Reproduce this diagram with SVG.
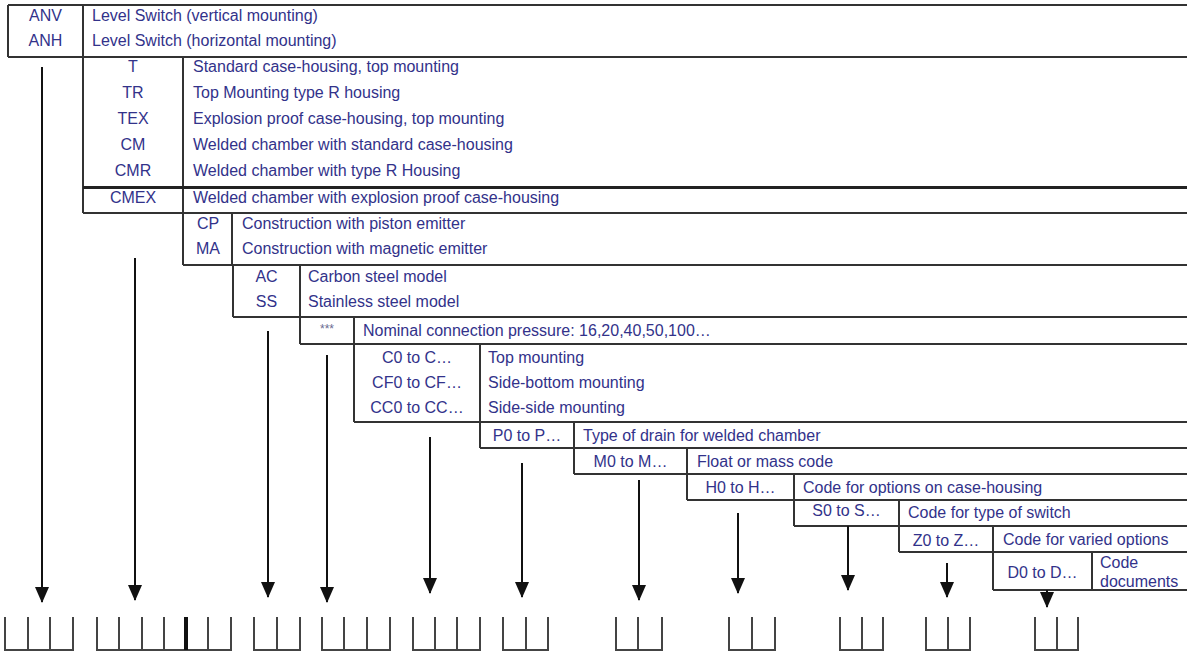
<svg xmlns="http://www.w3.org/2000/svg" width="1187" height="652" viewBox="0 0 1187 652">
<style>
.ln{stroke:#333;stroke-width:2;fill:none}
.thick{stroke:#222;stroke-width:3;fill:none}
.slot{stroke:#444;stroke-width:2;fill:none}
.code{font-family:"Liberation Sans",Arial,sans-serif;font-size:16px;fill:#32328a;text-anchor:middle}
.desc{font-family:"Liberation Sans",Arial,sans-serif;font-size:16px;fill:#32328a}
.star{font-family:"Liberation Sans",Arial,sans-serif;font-size:12px;fill:#6a6a90;text-anchor:middle}
.arr{stroke:#111;stroke-width:2;fill:none;marker-end:url(#ah)}
</style>
<defs>
<marker id="ah" viewBox="0 0 16 14" refX="15" refY="7" markerUnits="userSpaceOnUse" markerWidth="16" markerHeight="14" orient="auto">
<path d="M0,0 L16,7 L0,14 z" fill="#111"/>
</marker>
</defs>
<rect width="1187" height="652" fill="#fff"/>

<g id="block-series">
<path class="ln" d="M8,5 H1187 M8,5 V57 M83,5 V57 M8,57 H1187"/>
<text class="code" x="45.5" y="21">ANV</text>
<text class="desc" x="92" y="21">Level Switch (vertical mounting)</text>
<text class="code" x="45.5" y="46">ANH</text>
<text class="desc" x="92" y="46">Level Switch (horizontal mounting)</text>
</g>

<g id="block-housing">
<path class="ln" d="M83,57 V213 M183,57 V213 M83,213 H1187"/>
<path class="thick" d="M83,187.5 H1187"/>
<text class="code" x="133" y="72">T</text>
<text class="desc" x="193" y="72">Standard case-housing, top mounting</text>
<text class="code" x="133" y="98">TR</text>
<text class="desc" x="193" y="98">Top Mounting type R housing</text>
<text class="code" x="133" y="124">TEX</text>
<text class="desc" x="193" y="124">Explosion proof case-housing, top mounting</text>
<text class="code" x="133" y="150">CM</text>
<text class="desc" x="193" y="150">Welded chamber with standard case-housing</text>
<text class="code" x="133" y="176">CMR</text>
<text class="desc" x="193" y="176">Welded chamber with type R Housing</text>
<text class="code" x="133" y="203">CMEX</text>
<text class="desc" x="193" y="203">Welded chamber with explosion proof case-housing</text>
</g>

<g id="block-construction">
<path class="ln" d="M183,213 V265 M232,213 V265 M183,265 H1187"/>
<text class="code" x="208" y="229">CP</text>
<text class="desc" x="242" y="229">Construction with piston emitter</text>
<text class="code" x="208" y="254">MA</text>
<text class="desc" x="242" y="254">Construction with magnetic emitter</text>
</g>

<g id="block-material">
<path class="ln" d="M233,265 V317 M300,265 V317 M233,317 H1187"/>
<text class="code" x="266.5" y="282">AC</text>
<text class="desc" x="308" y="282">Carbon steel model</text>
<text class="code" x="266.5" y="307">SS</text>
<text class="desc" x="308" y="307">Stainless steel model</text>
</g>

<g id="block-pressure">
<path class="ln" d="M300,317 V344 M354,317 V344 M300,344 H1187"/>
<text class="star" x="327" y="333">***</text>
<text class="desc" x="363" y="336">Nominal connection pressure: 16,20,40,50,100…</text>
</g>

<g id="block-mounting">
<path class="ln" d="M354,344 V422 M480,344 V422 M354,422 H1187"/>
<text class="code" x="417" y="363">C0 to C…</text>
<text class="desc" x="488" y="363">Top mounting</text>
<text class="code" x="417" y="388">CF0 to CF…</text>
<text class="desc" x="488" y="388">Side-bottom mounting</text>
<text class="code" x="417" y="413">CC0 to CC…</text>
<text class="desc" x="488" y="413">Side-side mounting</text>
</g>

<g id="block-drain">
<path class="ln" d="M480,422 V448 M574,422 V448 M480,448 H1187"/>
<text class="code" x="527" y="441">P0 to P…</text>
<text class="desc" x="583" y="441">Type of drain for welded chamber</text>
</g>

<g id="block-float">
<path class="ln" d="M574,448 V474 M687,448 V474 M574,474 H1187"/>
<text class="code" x="630.5" y="467">M0 to M…</text>
<text class="desc" x="697" y="467">Float or mass code</text>
</g>

<g id="block-options">
<path class="ln" d="M687,474 V500 M794,474 V500 M687,500 H1187"/>
<text class="code" x="740.5" y="493">H0 to H…</text>
<text class="desc" x="803" y="493">Code for options on case-housing</text>
</g>

<g id="block-switch">
<path class="ln" d="M794,500 V526 M899,500 V526 M794,526 H1187"/>
<text class="code" x="846.5" y="516">S0 to S…</text>
<text class="desc" x="908" y="518">Code for type of switch</text>
</g>

<g id="block-varied">
<path class="ln" d="M899,526 V552 M993,526 V552 M899,552 H1187"/>
<text class="code" x="946" y="546">Z0 to Z…</text>
<text class="desc" x="1003" y="545">Code for varied options</text>
</g>

<g id="block-documents">
<path class="ln" d="M993,552 V590 M1092,552 V590 M993,590 H1187"/>
<text class="code" x="1042.5" y="578">D0 to D…</text>
<text class="desc" x="1100" y="568">Code</text>
<text class="desc" x="1100" y="587">documents</text>
</g>

<g id="connectors">
<line class="arr" x1="42" y1="67" x2="42" y2="602"/>
<line class="arr" x1="135" y1="258" x2="135" y2="600"/>
<line class="arr" x1="268" y1="331" x2="268" y2="597"/>
<line class="arr" x1="327" y1="355" x2="327" y2="602"/>
<line class="arr" x1="430" y1="437" x2="430" y2="593"/>
<line class="arr" x1="522" y1="463" x2="522" y2="597"/>
<line class="arr" x1="639" y1="480" x2="639" y2="600"/>
<line class="arr" x1="738" y1="513" x2="738" y2="593"/>
<line class="arr" x1="848" y1="526" x2="848" y2="590"/>
<line class="arr" x1="947" y1="563" x2="947" y2="597"/>
<line class="arr" x1="1047" y1="590" x2="1047" y2="607"/>
</g>

<g id="slots-1"><path class="slot" d="M5,617 V650 H73 V617 M28,617 V650 M50,617 V650"/></g>
<g id="slots-2"><path class="slot" d="M97,617 V650 H231 V617 M119,617 V650 M142,617 V650 M164,617 V650 M208,617 V650"/><path stroke="#111" stroke-width="4" d="M186,617 V650"/></g>
<g id="slots-3"><path class="slot" d="M254,617 V650 H300 V617 M277,617 V650"/></g>
<g id="slots-4"><path class="slot" d="M322,617 V650 H390 V617 M344,617 V650 M367,617 V650"/></g>
<g id="slots-5"><path class="slot" d="M413,617 V650 H480 V617 M435,617 V650 M457,617 V650"/></g>
<g id="slots-6"><path class="slot" d="M503,617 V650 H548 V617 M526,617 V650"/></g>
<g id="slots-7"><path class="slot" d="M616,617 V650 H662 V617 M638,617 V650"/></g>
<g id="slots-8"><path class="slot" d="M729,617 V650 H775 V617 M752,617 V650"/></g>
<g id="slots-9"><path class="slot" d="M840,617 V650 H883 V617 M862,617 V650"/></g>
<g id="slots-10"><path class="slot" d="M926,617 V650 H970 V617 M948,617 V650"/></g>
<g id="slots-11"><path class="slot" d="M1035,617 V650 H1078 V617 M1057,617 V650"/></g>
</svg>
